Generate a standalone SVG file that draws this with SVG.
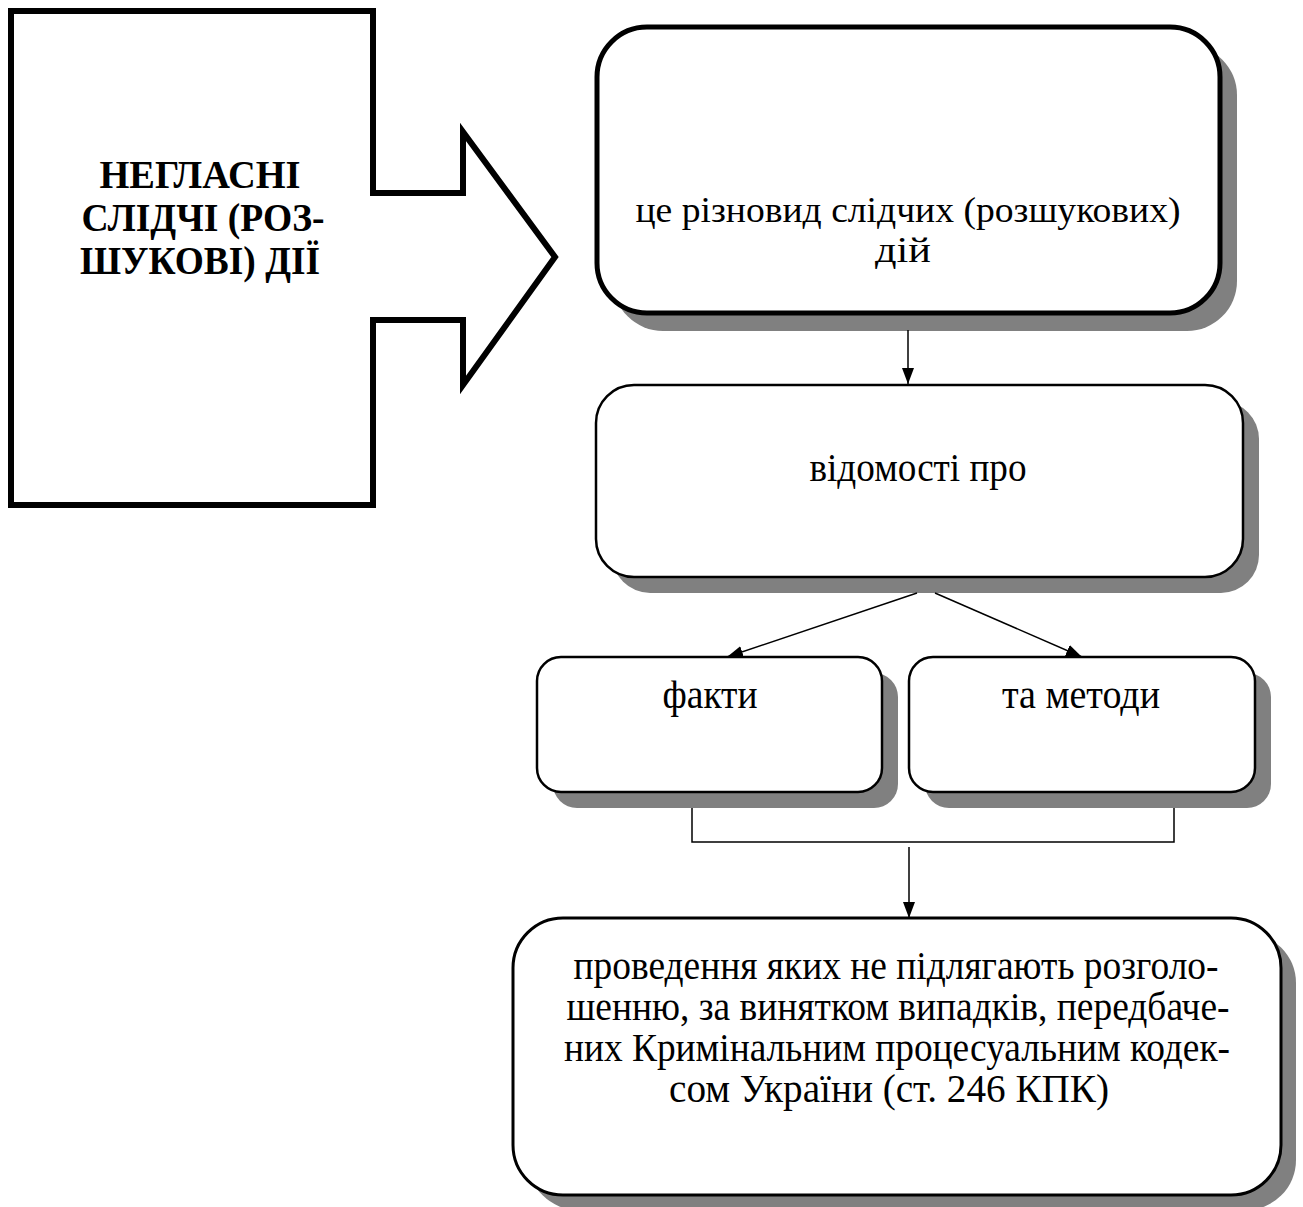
<svg xmlns="http://www.w3.org/2000/svg" width="1303" height="1207" viewBox="0 0 1303 1207">
<style>
.t{font-family:"Liberation Serif","Times New Roman",serif;font-size:40px;fill:#000;text-anchor:middle}
.b{font-weight:bold;font-size:41px}
.s{font-size:36px}
.sh{fill:#808080;stroke:none}
.box{fill:#fff;stroke:#000}
.ln{fill:none;stroke:#000;stroke-width:1.5}
</style>
<defs>
<marker id="a" markerUnits="userSpaceOnUse" markerWidth="16" markerHeight="12" viewBox="0 0 16 12" refX="16" refY="6" orient="auto">
<path d="M0,0 L16,6 L0,12 Z" fill="#000"/>
</marker>
</defs>
<rect width="1303" height="1207" fill="#fff"/>
<g id="n0">
<polygon points="11,11 373,11 373,193 463,193 463,132 555,257 463,385 463,320 373,320 373,505 11,505" fill="#fff" stroke="#000" stroke-width="6" stroke-linejoin="miter"/>
<text class="t b"><tspan x="200" y="188" textLength="201" lengthAdjust="spacingAndGlyphs">НЕГЛАСНІ</tspan><tspan x="203" y="231" textLength="243" lengthAdjust="spacingAndGlyphs">СЛІДЧІ (РОЗ-</tspan><tspan x="200" y="274" textLength="240" lengthAdjust="spacingAndGlyphs">ШУКОВІ) ДІЇ</tspan></text>
</g>
<g id="n1">
<rect class="sh" x="613" y="45" width="624" height="286" rx="50"/>
<rect class="box" x="597" y="27" width="623" height="286" rx="50" stroke-width="5"/>
<text class="t s" x="908" y="222" textLength="545" lengthAdjust="spacingAndGlyphs">це різновид слідчих (розшукових)</text>
<text class="t s" x="903" y="262" textLength="56" lengthAdjust="spacingAndGlyphs">дій</text>
</g>
<g id="n2">
<rect class="sh" x="612" y="401" width="647" height="192" rx="38"/>
<rect class="box" x="596" y="385" width="647" height="192" rx="38" stroke-width="2.5"/>
<text class="t" x="918" y="481" textLength="217" lengthAdjust="spacingAndGlyphs">відомості про</text>
</g>
<g id="n3">
<rect class="sh" x="553" y="673" width="345" height="135" rx="24"/>
<rect class="box" x="537" y="657" width="345" height="135" rx="24" stroke-width="2.5"/>
<text class="t" x="710" y="708" textLength="95" lengthAdjust="spacingAndGlyphs">факти</text>
</g>
<g id="n4">
<rect class="sh" x="925" y="673" width="346" height="135" rx="24"/>
<rect class="box" x="909" y="657" width="346" height="135" rx="24" stroke-width="2.5"/>
<text class="t" x="1081" y="708" textLength="158" lengthAdjust="spacingAndGlyphs">та методи</text>
</g>
<g id="n5">
<rect class="sh" x="528" y="933" width="768" height="277" rx="50"/>
<rect class="box" x="513" y="918" width="768" height="277" rx="50" stroke-width="3"/>
<text class="t"><tspan x="896" y="979" textLength="645" lengthAdjust="spacingAndGlyphs">проведення яких не підлягають розголо-</tspan><tspan x="898" y="1020" textLength="663" lengthAdjust="spacingAndGlyphs">шенню, за винятком випадків, передбаче-</tspan><tspan x="897" y="1061" textLength="666" lengthAdjust="spacingAndGlyphs">них Кримінальним процесуальним кодек-</tspan><tspan x="889" y="1102" textLength="440" lengthAdjust="spacingAndGlyphs">сом України (ст. 246 КПК)</tspan></text>
</g>
<g id="connectors">
<line class="ln" x1="908" y1="330" x2="908" y2="384" marker-end="url(#a)"/>
<line class="ln" x1="917" y1="593" x2="727" y2="657" marker-end="url(#a)"/>
<line class="ln" x1="935" y1="593" x2="1082" y2="657" marker-end="url(#a)"/>
<polyline class="ln" points="692,808 692,842 1174,842 1174,808"/>
<line class="ln" x1="909" y1="847" x2="909" y2="918" marker-end="url(#a)"/>
</g>
</svg>
